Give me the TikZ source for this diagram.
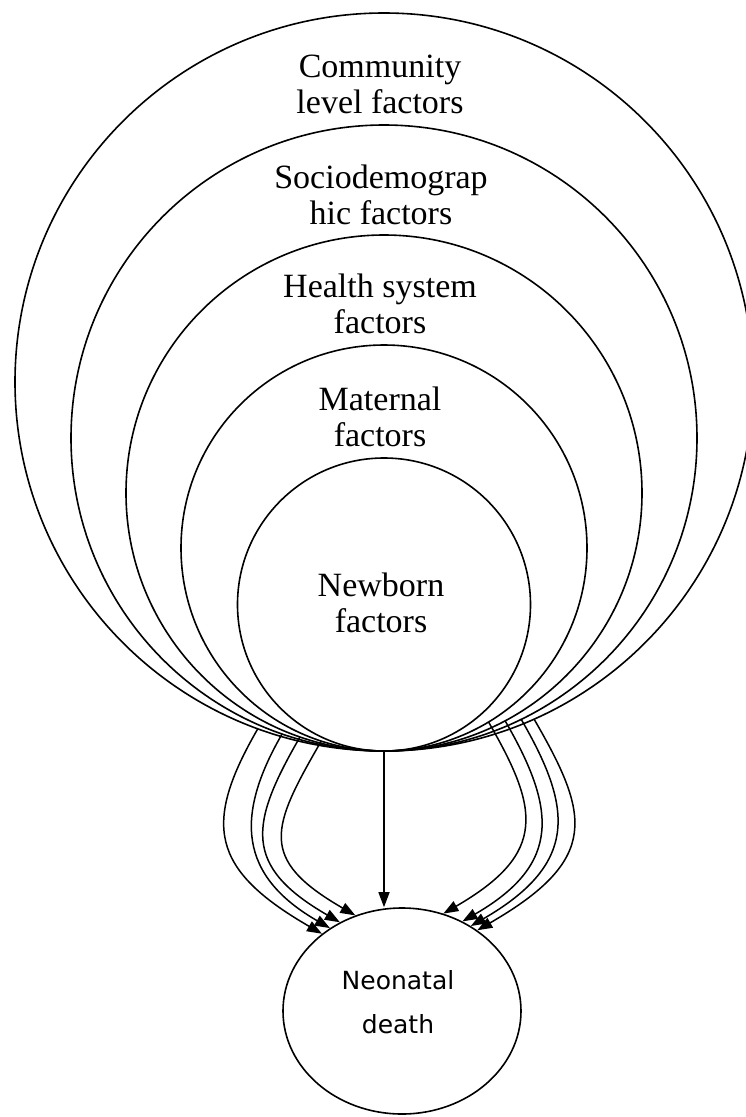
\documentclass[tikz,border=0pt]{standalone}
\usepackage{fontspec}
\setmainfont{Liberation Serif}
\newfontfamily\deathfont{DejaVu Sans}
\usetikzlibrary{shapes.geometric,arrows.meta}

\begin{document}
\begin{tikzpicture}[x=1pt, y=1pt,
  ring/.style={circle, draw, line width=1.6pt, inner sep=0pt, outer sep=0pt},
  factor/.style={align=center, font=\fontsize{34}{36}\selectfont},
  arr/.style={line width=1.5pt, -{Triangle[length=15pt, width=11pt]}}]

  % Page frame (the outer circle runs past the right edge)
  \useasboundingbox (0,0) rectangle (745,-1117);

  % Nested circles, all touching at the bottom point (384,-751)
  \node[ring, minimum size=738pt] (community) at (384,-382) {};
  \node[ring, minimum size=626pt] (socio)     at (384,-438) {};
  \node[ring, minimum size=516pt] (health)    at (384,-493) {};
  \node[ring, minimum size=406pt] (maternal)  at (384,-548) {};
  \node[ring, minimum size=293pt] (newborn)   at (384,-604.5) {};

  % Circle labels
  \node[factor] (lblcommunity) at (380,-84)    {Community\\level factors};
  \node[factor] (lblsocio)     at (381,-194.5) {Sociodemograp\\hic factors};
  \node[factor] (lblhealth)    at (380,-303.5) {Health system\\factors};
  \node[factor] (lblmaternal)  at (380,-416.5) {Maternal\\factors};
  \node[factor] (lblnewborn)   at (381,-603)   {Newborn\\factors};

  % Outcome
  \node[ellipse, draw, line width=1.6pt, inner sep=0pt,
        minimum width=238pt, minimum height=206pt] (death) at (402,-1011) {};
  \node[align=center, font=\deathfont\fontsize{25}{44}\selectfont]
        (lbldeath) at (398,-1002.5) {Neonatal\\death};

  % Straight arrow from the innermost circle
  \draw[arr] (newborn.south) -- (newborn.south |- death.north);

  % Left loops
  \draw[arr] (community.250) .. controls +(240:110) and +(150:129) .. (death.136);
  \draw[arr] (socio.251)     .. controls +(240:95)  and +(150:105) .. (death.131);
  \draw[arr] (health.251)    .. controls +(240:100) and +(150:113) .. (death.125);
  \draw[arr] (maternal.252)  .. controls +(240:100) and +(150:113) .. (death.116);

  % Right loops
  \draw[arr] (community.294) .. controls +(300:110) and +(30:143) .. (death.47);
  \draw[arr] (socio.296)     .. controls +(300:100) and +(30:127) .. (death.51);
  \draw[arr] (health.298)    .. controls +(300:100) and +(30:116) .. (death.56);
  \draw[arr] (maternal.301)  .. controls +(300:100) and +(30:121) .. (death.67);

\end{tikzpicture}
\end{document}
